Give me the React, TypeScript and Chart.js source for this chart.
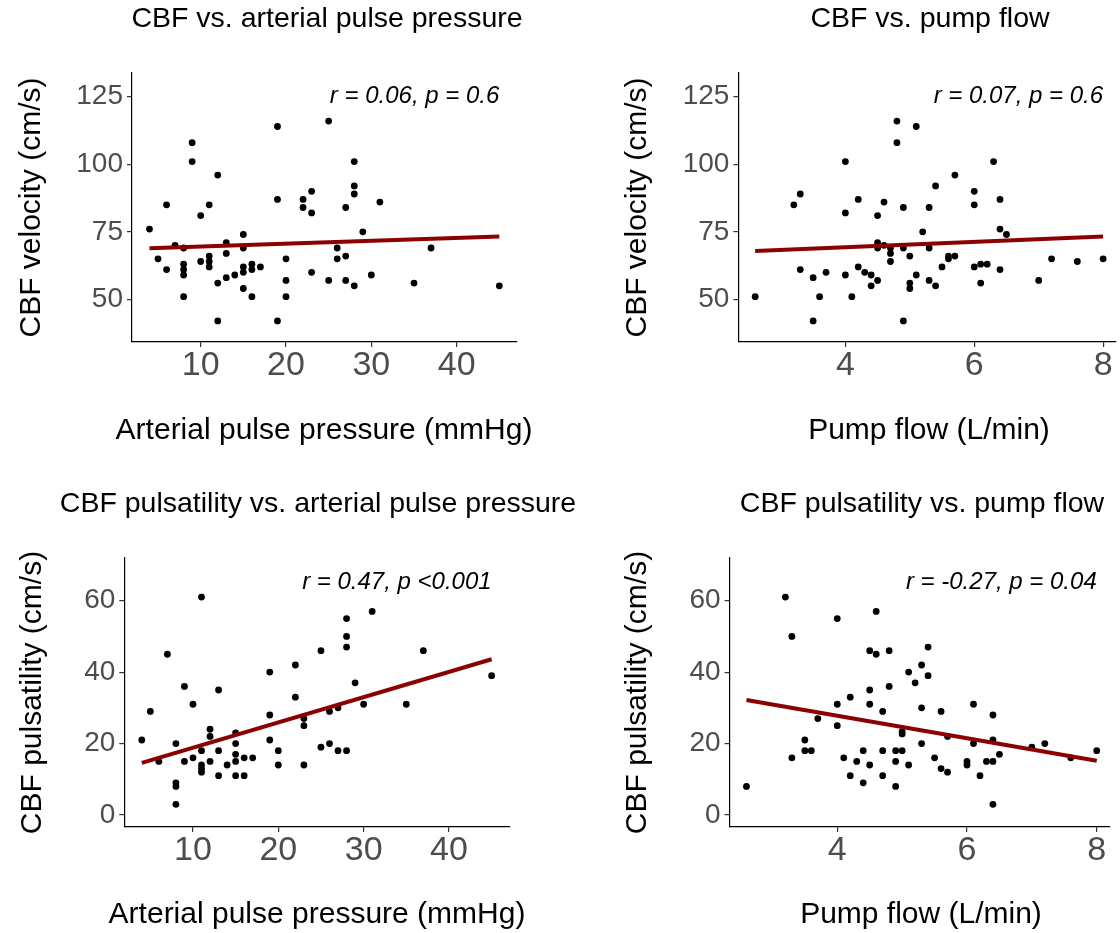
import React, { useEffect, useRef } from "react";
import { Chart, registerables } from "chart.js";

Chart.register(...registerables);

const FONT = '"Liberation Sans", Arial, Helvetica, sans-serif';

// ---------- tick labels ----------
const pressureTicks = [10, 20, 30, 40];
const flowTicks = [4, 6, 8];
const velocityTicks = [50, 75, 100, 125];
const pulsatilityTicks = [0, 20, 40, 60];

// ---------- Panel A: CBF vs. arterial pulse pressure ----------
const pressureA = [4, 5, 6, 6, 7, 8, 8, 8, 8, 8, 9, 9, 10, 10, 11, 11, 11, 11, 12, 12, 12, 13, 13, 13, 14, 15, 15, 15, 15, 15, 16, 16, 16, 17, 19, 19, 19, 20, 20, 20, 22, 22, 23, 23, 23, 25, 25, 26, 26, 27, 27, 27, 28, 28, 28, 28, 29, 30, 31, 35, 37, 45];
const velocityA = [76, 65, 85, 61, 70, 69, 63, 61, 59, 51, 108, 101, 81, 64, 85, 66, 64, 62, 96, 56, 42, 71, 67, 58, 59, 74, 69, 62, 60, 54, 63, 61, 51, 62, 114, 87, 42, 65, 57, 51, 87, 84, 90, 82, 60, 116, 57, 69, 65, 84, 66, 57, 101, 92, 89, 55, 75, 59, 86, 56, 69, 55];
const fitXA = [4, 45];
const fitYA = [68.9, 73.3];

// ---------- Panel B: CBF vs. pump flow ----------
const flowB = [2.6, 3.2, 3.3, 3.3, 3.5, 3.5, 3.6, 3.7, 4.0, 4.0, 4.0, 4.1, 4.2, 4.2, 4.3, 4.4, 4.4, 4.5, 4.5, 4.5, 4.5, 4.6, 4.6, 4.7, 4.7, 4.7, 4.8, 4.8, 4.9, 4.9, 4.9, 5.0, 5.0, 5.0, 5.1, 5.1, 5.2, 5.3, 5.3, 5.3, 5.4, 5.4, 5.5, 5.6, 5.6, 5.7, 5.7, 6.0, 6.0, 6.0, 6.1, 6.1, 6.2, 6.3, 6.4, 6.4, 6.4, 6.5, 7.0, 7.2, 7.6, 8.0];
const velocityB = [51, 85, 89, 61, 58, 42, 51, 60, 101, 82, 59, 51, 87, 62, 60, 59, 55, 81, 71, 69, 57, 86, 70, 69, 67, 64, 116, 108, 84, 69, 42, 66, 56, 54, 114, 59, 75, 84, 69, 57, 92, 55, 62, 66, 65, 96, 66, 90, 85, 62, 63, 56, 63, 101, 87, 76, 61, 74, 57, 65, 64, 65];
const fitXB = [2.6, 8.0];
const fitYB = [67.9, 73.3];

// ---------- Panel C: CBF pulsatility vs. arterial pulse pressure ----------
const pressureC = [4, 5, 6, 7, 8, 8, 8, 8, 9, 9, 10, 10, 11, 11, 11, 11, 11, 12, 12, 12, 13, 13, 13, 14, 15, 15, 15, 15, 15, 16, 16, 17, 19, 19, 19, 20, 20, 22, 22, 23, 23, 23, 25, 25, 26, 26, 27, 27, 28, 28, 28, 28, 29, 30, 31, 35, 37, 45];
const pulsatilityC = [21, 29, 15, 45, 20, 9, 8, 3, 36, 15, 31, 16, 61, 18, 14, 13, 12, 24, 22, 15, 35, 18, 11, 14, 23, 20, 17, 15, 11, 16, 11, 16, 40, 28, 21, 18, 14, 42, 33, 27, 25, 14, 46, 19, 29, 20, 30, 18, 55, 50, 47, 18, 37, 31, 57, 31, 46, 39];
const fitXC = [4, 45];
const fitYC = [14.6, 43.6];

// ---------- Panel D: CBF pulsatility vs. pump flow ----------
const flowD = [2.6, 3.2, 3.3, 3.3, 3.5, 3.5, 3.6, 3.7, 4.0, 4.0, 4.0, 4.1, 4.2, 4.2, 4.3, 4.4, 4.4, 4.5, 4.5, 4.5, 4.5, 4.6, 4.6, 4.7, 4.7, 4.7, 4.8, 4.8, 4.9, 4.9, 4.9, 5.0, 5.0, 5.0, 5.1, 5.1, 5.2, 5.3, 5.3, 5.3, 5.4, 5.4, 5.5, 5.6, 5.6, 5.7, 5.7, 6.0, 6.0, 6.1, 6.1, 6.2, 6.3, 6.4, 6.4, 6.4, 6.4, 6.5, 7.0, 7.2, 7.6, 8.0];
const pulsatilityD = [8, 61, 50, 16, 21, 18, 18, 27, 55, 31, 25, 16, 33, 11, 15, 18, 9, 46, 35, 31, 14, 57, 45, 29, 18, 11, 46, 36, 18, 15, 8, 18, 23.3, 22.7, 40, 14, 37, 42, 30, 20, 47, 39, 16, 29, 13, 22, 12, 15, 14, 31, 20, 11, 15, 28, 21, 15, 3, 17, 19, 20, 16, 18];
const fitXD = [2.6, 8.0];
const fitYD = [32.2, 15.2];

// ---------- annotations ----------
const notes = ["r = 0.06, p = 0.6", "r = 0.07, p = 0.6", "r = 0.47, p <0.001", "r = -0.27, p = 0.04"];

type Panel = {
  title: string;
  xTitle: string;
  yTitle: string;
  note: string;
  noteX: number;
  noteY: number;
  xs: number[];
  ys: number[];
  fitX: number[];
  fitY: number[];
  xTicks: number[];
  yTicks: number[];
  xMin: number;
  xMax: number;
  yMin: number;
  yMax: number;
  area: { l: number; t: number; r: number; b: number };
  titleX: number;
  titleY: number;
  xTitleX: number;
  xTitleY: number;
  yTitleX: number;
  yTitleY: number;
};

const W = 1120;
const H = 933;

const PANELS: Panel[] = [
  {
    title: "CBF vs. arterial pulse pressure",
    xTitle: "Arterial pulse pressure (mmHg)",
    yTitle: "CBF velocity (cm/s)",
    note: notes[0], noteX: 45, noteY: 125,
    xs: pressureA, ys: velocityA, fitX: fitXA, fitY: fitYA,
    xTicks: pressureTicks, yTicks: velocityTicks,
    xMin: 1.95, xMax: 47.05, yMin: 34.2, yMax: 133.8,
    area: { l: 132, t: 73, r: 516.8, b: 342 },
    titleX: 327, titleY: 19.5, xTitleX: 324, xTitleY: 431, yTitleX: 32, yTitleY: 207.5,
  },
  {
    title: "CBF vs. pump flow",
    xTitle: "Pump flow (L/min)",
    yTitle: "CBF velocity (cm/s)",
    note: notes[1], noteX: 8, noteY: 125,
    xs: flowB, ys: velocityB, fitX: fitXB, fitY: fitYB,
    xTicks: flowTicks, yTicks: velocityTicks,
    xMin: 2.34, xMax: 8.2, yMin: 34.2, yMax: 133.8,
    area: { l: 738.4, t: 73, r: 1117.2, b: 342 },
    titleX: 930, titleY: 19.5, xTitleX: 929, xTitleY: 431, yTitleX: 638, yTitleY: 207.5,
  },
  {
    title: "CBF pulsatility vs. arterial pulse pressure",
    xTitle: "Arterial pulse pressure (mmHg)",
    yTitle: "CBF pulsatility (cm/s)",
    note: notes[2], noteX: 45, noteY: 65.2,
    xs: pressureC, ys: pulsatilityC, fitX: fitXC, fitY: fitYC,
    xTicks: pressureTicks, yTicks: pulsatilityTicks,
    xMin: 1.95, xMax: 47.05, yMin: -3.36, yMax: 71.95,
    area: { l: 124.3, t: 558, r: 509.1, b: 827 },
    titleX: 318, titleY: 504.5, xTitleX: 317, xTitleY: 915, yTitleX: 33, yTitleY: 692.5,
  },
  {
    title: "CBF pulsatility vs. pump flow",
    xTitle: "Pump flow (L/min)",
    yTitle: "CBF pulsatility (cm/s)",
    note: notes[3], noteX: 8, noteY: 65.2,
    xs: flowD, ys: pulsatilityD, fitX: fitXD, fitY: fitYD,
    xTicks: flowTicks, yTicks: pulsatilityTicks,
    xMin: 2.34, xMax: 8.2, yMin: -3.36, yMax: 71.95,
    area: { l: 729.6, t: 558, r: 1109.7, b: 827 },
    titleX: 922, titleY: 504.5, xTitleX: 921, xTitleY: 915, yTitleX: 638, yTitleY: 692.5,
  },
];

function textPlugin(p: Panel) {
  return {
    id: "panelText",
    afterDraw(chart: any) {
      const ctx: CanvasRenderingContext2D = chart.ctx;
      const xs = chart.scales.x;
      const ys = chart.scales.y;
      ctx.save();
      ctx.fillStyle = "#000000";
      ctx.textAlign = "center";
      ctx.textBaseline = "middle";
      ctx.font = `28.5px ${FONT}`;
      ctx.fillText(p.title, p.titleX, p.titleY);
      ctx.font = `30px ${FONT}`;
      ctx.fillText(p.xTitle, p.xTitleX, p.xTitleY);
      ctx.save();
      ctx.translate(p.yTitleX, p.yTitleY);
      ctx.rotate(-Math.PI / 2);
      ctx.fillText(p.yTitle, 0, 0);
      ctx.restore();
      ctx.font = `italic 24px ${FONT}`;
      ctx.textAlign = "right";
      ctx.fillText(p.note, xs.getPixelForValue(p.noteX), ys.getPixelForValue(p.noteY));
      ctx.restore();
    },
  };
}

function makeChart(canvas: HTMLCanvasElement, p: Panel) {
  const axisCommon = {
    type: "linear" as const,
    grid: {
      display: true,
      drawOnChartArea: false,
      drawTicks: true,
      tickLength: 5,
      color: "#333333",
      lineWidth: 1.2,
    },
    border: { display: true, color: "#000000", width: 1.2 },
  };
  return new Chart(canvas, {
    type: "scatter",
    data: {
      datasets: [
        {
          label: "fit",
          data: p.fitX.map((x, i) => ({ x, y: p.fitY[i] })),
          showLine: true,
          borderColor: "#8B0000",
          backgroundColor: "#8B0000",
          borderWidth: 4,
          pointRadius: 0,
          borderCapStyle: "butt",
        },
        {
          label: "obs",
          data: p.xs.map((x, i) => ({ x, y: p.ys[i] })),
          backgroundColor: "#000000",
          borderColor: "#000000",
          pointRadius: 3.4,
          pointBorderWidth: 0,
          showLine: false,
        },
      ],
    },
    options: {
      animation: false,
      responsive: false,
      maintainAspectRatio: false,
      devicePixelRatio: 1,
      events: [],
      layout: {
        padding: { top: p.area.t, right: W - p.area.r, left: 0, bottom: 0 },
      },
      plugins: {
        legend: { display: false },
        tooltip: { enabled: false },
        title: { display: false },
      },
      scales: {
        x: {
          ...axisCommon,
          position: "bottom",
          min: p.xMin,
          max: p.xMax,
          afterBuildTicks: (s: any) => {
            s.ticks = p.xTicks.map((v) => ({ value: v }));
          },
          afterFit: (s: any) => {
            s.height = H - p.area.b;
          },
          ticks: {
            color: "#4D4D4D",
            font: { family: FONT, size: 34, lineHeight: 1 },
            padding: 2,
            maxRotation: 0,
            autoSkip: false,
          },
        },
        y: {
          ...axisCommon,
          position: "left",
          min: p.yMin,
          max: p.yMax,
          afterBuildTicks: (s: any) => {
            s.ticks = p.yTicks.map((v) => ({ value: v }));
          },
          afterFit: (s: any) => {
            s.width = p.area.l;
          },
          ticks: {
            color: "#4D4D4D",
            font: { family: FONT, size: 28, lineHeight: 1 },
            padding: 4,
            autoSkip: false,
          },
        },
      },
    } as any,
    plugins: [textPlugin(p)],
  });
}

export default function App() {
  const canvases = useRef<(HTMLCanvasElement | null)[]>([]);

  useEffect(() => {
    const charts = PANELS.map((p, i) => makeChart(canvases.current[i] as HTMLCanvasElement, p));
    return () => {
      charts.forEach((c) => c.destroy());
    };
  }, []);

  return (
    <div
      style={{
        position: "absolute",
        left: 0,
        top: 0,
        width: W,
        height: H,
        background: "#ffffff",
        overflow: "hidden",
      }}
    >
      {PANELS.map((p, i) => (
        <canvas
          key={i}
          ref={(el) => {
            canvases.current[i] = el;
          }}
          width={W}
          height={H}
          style={{ position: "absolute", left: 0, top: 0, width: W, height: H }}
        />
      ))}
    </div>
  );
}
